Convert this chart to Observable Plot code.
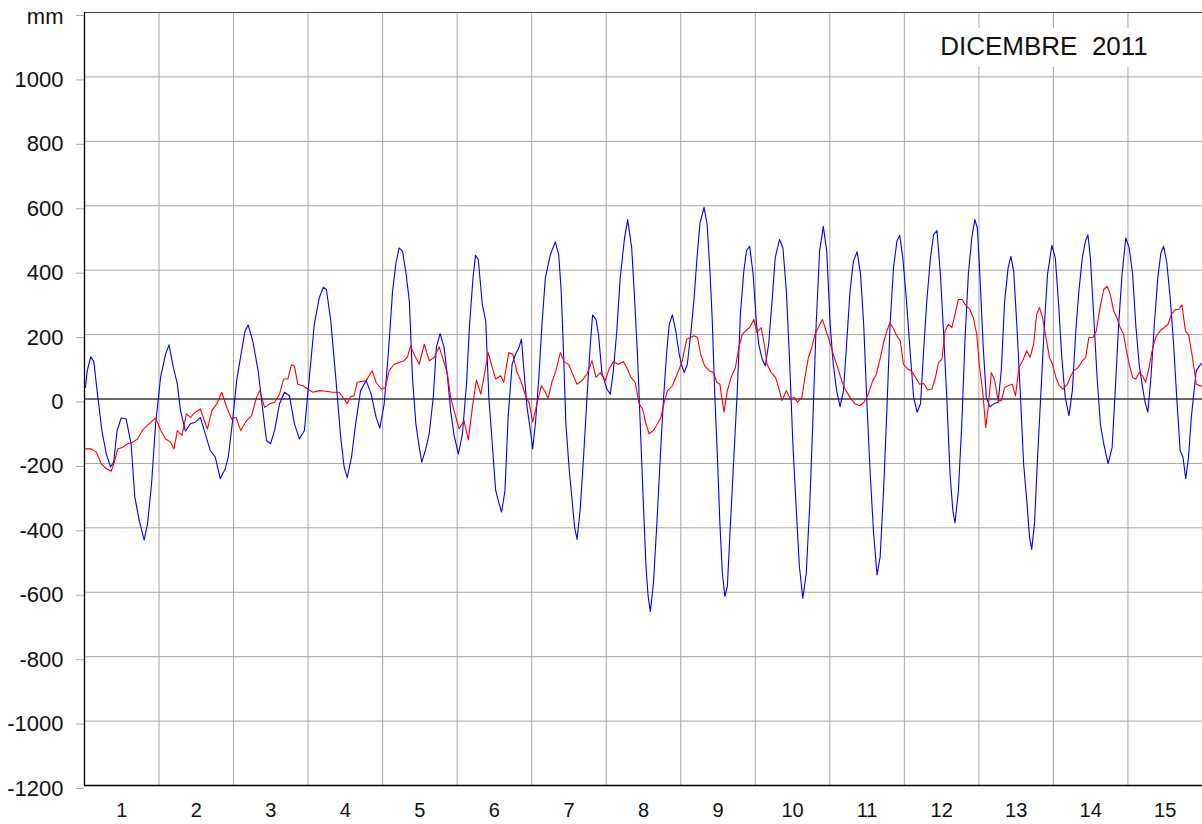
<!DOCTYPE html>
<html>
<head>
<meta charset="utf-8">
<script src="https://cdn.jsdelivr.net/npm/d3@7"></script>
<script src="https://cdn.jsdelivr.net/npm/@observablehq/plot@0.6"></script>
<style>
  html, body { margin: 0; padding: 0; background: white; }
  #wrap { position: relative; width: 1202px; height: 824px; overflow: hidden; }
  #title { position: absolute; left: 924px; top: 28px; width: 240px; height: 39px; background: white;
    font-family: 'Liberation Sans', Arial, sans-serif; font-size: 26px; line-height: 37px; text-align: center;
    white-space: pre; color: #111; }
</style>
</head>
<body>
<div id="wrap"><div id="title">DICEMBRE  2011</div></div>
<script>
// Time in hours from 1 Dec 2011 00:00; values in mm
const tideHours = [
0.3,0.9,2,3,4.3,5.6,7,8.4,9.4,10.5,11.8,13.4,15,16.2,17.6,19.2,20.3,21.6,22.9,24.5,26.1,27.2,28.6,29.9,30.9,32.5,34.1,35.7,37.3,38.9,40.5,42.1,43.7,45.3,46.3,47.7,49,50.6,51.7,52.7,54.3,55.9,57.3,58.6,59.9,61.2,62.8,64.4,66,67.6,69.2,70.8,72.4,74,75.6,76.9,77.9,79.3,80.9,82.5,83.6,84.6,86,87.3,88.9,
90.7,92.3,93.9,95.1,96.5,97.9,99.2,100.3,101.3,102.4,103.5,104.6,105.6,106.7,107.8,108.6,109.9,111,112.3,113.3,114.5,115.8,116.9,117.9,119,120.4,121.7,123,124,125.1,125.9,126.8,128.1,129.2,130.2,131.3,132.4,133.5,134.3,135.4,136.4,137.7,138.8,139.9,140.7,141.5,142.5,143.6,144.3,145.2,146.3,147.3,148.4,150,151.6,152.7,153.5,154.3,155,156.1,157,157.8,158.6,159.6,160.7,161.8,162.8,163.6,164.7,165.5,166.6,168.2,169.3,170.3,171.4,172.5,173.9,174.9,
176.2,177,178.1,179.2,180,180.8,181.5,182.2,183.2,184.3,185.4,186.4,187.5,188.3,189.3,190.4,191.5,192.2,193.1,194.1,195.2,196.3,197.3,198.2,199.5,200.5,201.4,202.1,202.9,203.8,204.6,205.4,206.2,207,208,209.1,210.2,211.2,212.3,213.2,214.2,215.3,216.4,217.1,218.2,219.2,220.3,221.4,222.4,223.8,224.9,226,227,228.1,229.2,230.2,231.3,232.4,233.5,234.5,235.6,236.7,237.9,239,240.1,241.1,242.2,243.3,244.4,245.4,246.5,247.6,248.8,249.9,250.9,252,253,254.1,255.2,256.2,257.3,258.4,259.4,260.5,261.6,262.5,263.5,264.6,
266,267,268.1,269.2,270.2,271.3,272.4,273.4,274.5,275.6,276.6,277.7,278.7,279.6,280.3,281.4,282.5,283.5,284.6,285.7,286.7,287.5,288.3,289.4,290.4,291.5,292.8,294.2,295.2,296.3,297.4,298.3,299.2,300.2,301.3,302.4,303.4,304.3,305,305.9,306.9,308,309.1,310.1,311.5,312.6,313.6,314.7,315.8,317,318.1,319.2,320.2,321.3,322.3,323.1,323.9,325,326,327.1,328.2,329.6,330.9,331.9,333,334.1,335.3,336.4,337.5,338.5,339.6,340.7,341.5,342.4,343.4,344.5,345.6,346.6,347.5,348.5,349.6,350.7,351.7,352.8,353.7,354.6,355.5,356.4,357.3,358,359.6
];
const tideValues = [
36,88,131,116,5,-98,-170,-211,-196,-98,-59,-62,-139,-304,-376,-438,-387,-263,-77,67,139,168,98,46,-36,-100,-77,-72,-57,-108,-160,-180,-247,-217,-180,-67,57,150,211,230,175,88,-26,-129,-139,-98,-15,21,10,-77,-124,-98,67,232,314,347,340,242,67,-119,-211,-244,-180,-77,26,
57,15,-57,-90,-15,150,335,423,469,459,392,304,67,-77,-150,-196,-155,-108,5,160,203,160,67,-36,-113,-170,-108,46,232,376,446,433,294,242,5,-139,-284,-325,-351,-284,-57,108,139,160,186,88,-26,-98,-155,-77,67,232,376,448,488,448,335,129,-77,-222,-314,-397,-436,-345,-180,5,160,261,247,201,82,31,15,88,211,376,500,557,
469,335,129,-139,-335,-520,-613,-660,-572,-387,-180,-5,150,232,261,211,139,108,82,108,201,314,448,546,595,541,397,253,26,-180,-387,-541,-613,-582,-387,-180,26,263,397,461,474,387,232,170,124,103,170,304,438,495,469,335,129,-139,-345,-520,-619,-541,-335,-77,232,459,536,459,232,108,26,-24,26,170,335,428,457,387,232,-26,-232,-418,-546,-490,-284,-26,232,407,490,508,438,314,
129,5,-41,-15,150,314,438,510,523,387,211,-5,-232,-345,-385,-284,-77,180,387,500,557,531,387,160,5,-24,-15,-10,88,304,407,443,397,232,26,-201,-314,-428,-467,-387,-180,26,232,387,477,438,304,129,5,-52,26,211,335,438,490,510,438,253,77,-77,-139,-201,-150,26,232,387,500,469,387,232,108,36,-10,-41,67,232,376,454,474,423,314,170,5,-160,-180,-247,-180,-57,26,88,110
];
const residHours = [
0.3,2.2,3.8,5.4,7,8.6,9.6,10.7,12.3,13.9,15.5,17.1,18.7,20.3,21.9,22.9,24.5,26.1,27.7,28.8,29.9,31.4,32.8,34.1,35.7,37.3,38.4,39.6,41,42.6,44.2,45.8,47.4,48.8,50.3,52.2,53.8,55.4,56.4,58,59.6,61.2,62.8,64.1,65.5,66.6,67.6,68.7,70.3,71.9,73.5,75.6,77.7,79.9,82,83.6,84.6,85.7,86.8,87.8,
90.7,92.6,93.9,95.5,96.9,98.1,99.7,101.3,102.9,104,105,106.1,107.8,109.4,111,112.6,114.2,115.8,116.9,117.9,119,120.6,122.2,123.6,124.9,126.2,127.6,128.6,130,131.3,132.4,134,135,136.6,137.9,139.3,140.7,142,143.3,144.3,145.7,147.1,148.4,149.3,150.5,151.8,153.2,154.6,155.9,157,158.6,160.2,161.8,163.4,164.7,166.1,167.7,168.9,170.3,171.9,173.5,174.6,
176,177.3,178.6,179.7,180.8,181.8,183.2,184.5,185.6,186.7,187.7,189.3,190.4,191.5,192.5,193.9,195.2,196.3,197.4,198.4,199.7,201.1,202.5,203.6,204.6,205.9,207,208.2,209.6,210.7,211.8,212.8,214.2,215.5,216.5,217.9,218.9,219.8,221.1,222.5,223.5,224.6,226,227.3,228.5,229.6,231,232,233.1,234.2,235.2,236.3,237.6,238.8,239.9,241.1,242.5,243.8,245.2,246.5,248.1,249.7,251,252.4,253.8,255,256.3,257.4,258.4,259.3,260.3,261.6,262.7,263.7,265.1,
266.2,267.6,268.9,270.2,271.5,272.9,274,275,276.1,277.1,278.2,279.3,280.3,281.4,282.5,283.9,285.1,286.2,287.3,288.1,289.2,290.2,291,292,293.1,294.2,295.2,296.3,297.4,298.7,299.8,300.9,302.1,303.4,304.5,305.6,306.6,307.5,308.5,309.6,310.7,311.7,312.8,313.9,315.1,316.5,317.6,318.6,320,321.3,322.4,323.4,324.7,325.8,326.8,328.2,329.3,330.3,331.4,332.4,333.5,334.6,335.3,336.4,337.5,338.5,339.6,340.7,341.7,342.8,343.8,344.9,346.3,347.7,348.9,350,351.3,352.3,353.4,354.5,355.5,356.6,357.4,358,359.6
];
const residValues = [
-155,-155,-165,-201,-216,-224,-196,-155,-150,-139,-134,-124,-96,-82,-67,-59,-96,-124,-134,-155,-98,-113,-46,-57,-41,-31,-62,-93,-36,-15,21,-26,-62,-57,-98,-67,-52,5,26,-26,-15,-10,15,62,62,106,103,46,41,31,21,26,24,21,21,0,-15,7,10,52,
57,88,52,31,36,88,108,113,119,131,165,139,108,170,119,129,162,113,77,5,-36,-93,-67,-127,-26,59,15,67,144,98,62,72,52,144,139,82,52,10,-15,-72,-15,41,21,3,52,88,144,113,108,82,46,57,77,119,67,82,57,93,116,108,116,98,
67,52,-15,-31,-77,-108,-98,-77,-57,-10,26,41,67,93,119,186,191,196,191,139,103,88,82,52,46,-41,26,67,98,160,201,211,222,247,206,222,170,108,82,67,36,-5,26,0,5,-10,5,67,129,160,201,222,247,211,180,139,98,57,26,5,-15,-21,-10,15,57,77,129,180,211,237,222,196,180,108,93,
88,67,46,48,28,31,67,113,124,211,232,222,263,309,309,289,278,253,201,108,26,-88,-26,82,57,-5,-5,36,41,46,10,98,119,150,129,170,263,284,253,191,129,108,67,41,31,46,72,88,98,119,129,191,191,211,273,340,350,325,273,253,222,201,160,108,67,62,82,72,52,98,150,191,211,222,232,263,278,278,292,211,201,139,88,46,40
];

// Axes
const dayBoundaries = [24,48,72,96,120,144,168,192,216,240,264,288,312,336];
const dayTicks = [12,36,60,84,108,132,156,180,204,228,252,276,300,324,348];
const dayLabels = ["1","2","3","4","5","6","7","8","9","10","11","12","13","14","15"];
const yTicks = [-1200,-1000,-800,-600,-400,-200,0,200,400,600,800,1000,1200];
const yTickLabels = ["-1200","-1000","-800","-600","-400","-200","0","200","400","600","800","1000",""];
const unitLabel = "mm";

const tide = tideHours.map((h, i) => ({h, v: tideValues[i]}));
const resid = residHours.map((h, i) => ({h, v: residValues[i]}));

const font = "'Liberation Sans', Arial, Helvetica, sans-serif";
const chart = Plot.plot({
  width: 1202,
  height: 824,
  marginLeft: 84,
  marginRight: 0,
  marginTop: 12,
  marginBottom: 39,
  x: {domain: [0, 360], label: null},
  y: {domain: [-1200, 1200], label: null},
  style: {fontFamily: font, background: "white", color: "black", overflow: "visible"},
  marks: [
    Plot.gridY(yTicks, {stroke: "#a6a6a6", strokeOpacity: 1, strokeWidth: 1}),
    Plot.gridX(dayBoundaries, {stroke: "#a6a6a6", strokeOpacity: 1, strokeWidth: 1}),
    Plot.axisY(yTicks, {tickSize: 8, tickPadding: 13, stroke: "#a6a6a6", fill: "#111", fontSize: 22, dy: 3, label: null,
      tickFormat: d => yTickLabels[yTicks.indexOf(d)]}),
    Plot.axisX(dayTicks, {tickSize: 0, tickPadding: 17, fill: "#111", fontSize: 20, label: null,
      tickFormat: d => dayLabels[dayTicks.indexOf(d)]}),
    Plot.text([unitLabel], {x: 0, y: 1200, text: d => d, dx: -21, dy: 4, textAnchor: "end", fontSize: 22, fill: "#111"}),
    Plot.ruleY([0], {stroke: "black", strokeWidth: 1}),
    Plot.ruleY([1200], {stroke: "#444", strokeWidth: 1.2}),
    Plot.ruleY([-1200], {stroke: "black", strokeWidth: 1.3}),
    Plot.ruleX([0], {stroke: "black", strokeWidth: 1.3}),
    Plot.line(tide, {x: "h", y: "v", stroke: "#0000ff", strokeWidth: 1.1}),
    Plot.line(resid, {x: "h", y: "v", stroke: "#ff0000", strokeWidth: 1.1})
  ]
});
document.getElementById("wrap").prepend(chart);
</script>
</body>
</html>
